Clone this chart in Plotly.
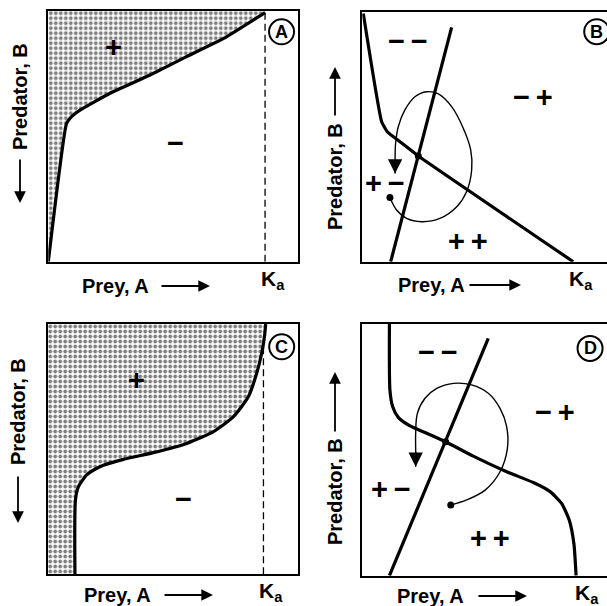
import plotly.graph_objects as go

W, H = 607, 606

# ---------------- data (normalized phase-plane coordinates) ----------------
# Panel A: predator isocline, prey carrying capacity Ka
a_iso_x = [0.0, 0.073, 0.093, 0.127, 0.247, 0.407, 0.553, 0.713, 0.867]
a_iso_y = [0.0, 0.551, 0.578, 0.604, 0.671, 0.744, 0.817, 0.896, 0.992]
a_ka = 0.867

# Panel B: prey isocline, predator isocline, trajectory
b_prey_x = [0.004, 0.079, 0.102, 0.154, 0.229, 0.862]
b_prey_y = [0.993, 0.560, 0.520, 0.480, 0.423, 0.0]
b_pred_x = [0.116, 0.365]
b_pred_y = [0.0, 0.937]
b_eq = (0.229, 0.423)
b_traj_x = [0.113, 0.140, 0.181, 0.243, 0.317, 0.386, 0.426, 0.447, 0.443, 0.413,
            0.365, 0.311, 0.263, 0.215, 0.174, 0.147, 0.136, 0.134, 0.134]
b_traj_y = [0.257, 0.207, 0.173, 0.160, 0.173, 0.220, 0.280, 0.367, 0.447, 0.533,
            0.620, 0.671, 0.680, 0.660, 0.607, 0.540, 0.473, 0.407, 0.353]
b_ka = 0.862

# Panel C: predator isocline (sigmoid), Ka
c_iso_x = [0.109, 0.111, 0.123, 0.156, 0.209, 0.303, 0.423, 0.556, 0.663, 0.743,
           0.803, 0.836, 0.856, 0.867, 0.872]
c_iso_y = [0.0, 0.297, 0.350, 0.397, 0.430, 0.459, 0.486, 0.523, 0.570, 0.630,
           0.710, 0.803, 0.883, 0.949, 1.0]
c_ka = 0.863

# Panel D
d_prey_x = [0.113, 0.115, 0.126, 0.149, 0.197, 0.265, 0.342, 0.455, 0.591, 0.700,
            0.768, 0.815, 0.846, 0.865, 0.874]
d_prey_y = [1.0, 0.738, 0.672, 0.629, 0.595, 0.566, 0.532, 0.475, 0.413, 0.370,
            0.334, 0.287, 0.221, 0.128, 0.0]
d_pred_x = [0.113, 0.516]
d_pred_y = [0.0, 0.943]
d_eq = (0.342, 0.532)
d_traj_x = [0.363, 0.428, 0.503, 0.564, 0.594, 0.591, 0.564, 0.516, 0.448, 0.374,
            0.306, 0.258, 0.227, 0.220, 0.220, 0.220]
d_traj_y = [0.281, 0.301, 0.340, 0.413, 0.506, 0.592, 0.665, 0.725, 0.758, 0.764,
            0.744, 0.705, 0.645, 0.566, 0.499, 0.433]
d_ka = 0.887

# region sign labels per panel: (text, x, y)
a_labels = [("+", 0.26, 0.857), ("−", 0.507, 0.471)]
b_labels = [("−\u2009−", 0.188, 0.884), ("−\u2009+", 0.699, 0.660), ("+\u2009−", 0.093, 0.316), ("+\u2009+", 0.433, 0.084)]
c_labels = [("+", 0.356, 0.776), ("−", 0.543, 0.301)]
d_labels = [("−\u2009−", 0.313, 0.887), ("−\u2009+", 0.788, 0.649), ("+\u2009−", 0.118, 0.343), ("+\u2009+", 0.523, 0.148)]
panel_letters = [("A", 0.933, 0.916), ("B", 0.958, 0.920), ("C", 0.936, 0.909), ("D", 0.931, 0.903)]

x_title = "Prey, A"
y_title = "Predator, B"
ka_text = "K<sub>a</sub>"

# ---------------- layout helpers ----------------
def px(x):
    return x / W

def py(y):
    return 1 - y / H

boxes = {  # left, right, top, bottom in pixels
    1: (48.3, 298.3, 10.7, 261.7),
    2: (362.3, 607.0, 11.7, 261.7),
    3: (47.7, 297.7, 324.0, 574.3),
    4: (361.7, 607.0, 324.0, 575.7),
}

fig = go.Figure()
FONT = "Liberation Sans, Arial, sans-serif"
THICK = 3.2
THIN = 1.4

def ax(i):
    return ("x" if i == 1 else f"x{i}"), ("y" if i == 1 else f"y{i}")

layout = dict(width=W, height=H, margin=dict(l=0, r=0, t=0, b=0),
              paper_bgcolor="white", plot_bgcolor="white", showlegend=False)
for i, (l, r, t, b) in boxes.items():
    full = i in (1, 3)
    xa = dict(domain=[px(l), min(px(r), 1.0)], range=[0, 1], showgrid=False, zeroline=False,
              showticklabels=False, ticks="", showline=True, linecolor="black", linewidth=1.6,
              mirror=True, anchor=ax(i)[1], fixedrange=True)
    ya = dict(domain=[py(b), py(t)], range=[0, 1], showgrid=False, zeroline=False,
              showticklabels=False, ticks="", showline=True, linecolor="black", linewidth=1.6,
              mirror=full, anchor=ax(i)[0], fixedrange=True)
    layout["xaxis" if i == 1 else f"xaxis{i}"] = xa
    layout["yaxis" if i == 1 else f"yaxis{i}"] = ya
fig.update_layout(**layout)

stipple = dict(shape=".", fgcolor="black", bgcolor="white", size=5, solidity=0.45)

# ---- Panel A ----
xr, yr = ax(1)
fig.add_trace(go.Scatter(x=a_iso_x + [a_iso_x[-1], 0, 0], y=a_iso_y + [1, 1, 0], mode="lines",
                         fill="toself", fillcolor="white", fillpattern=stipple,
                         line=dict(width=0), xaxis=xr, yaxis=yr, hoverinfo="skip"))
fig.add_trace(go.Scatter(x=[a_ka, a_ka], y=[0, 1], mode="lines",
                         line=dict(color="black", width=1.3, dash="7px,4px"), xaxis=xr, yaxis=yr))
fig.add_trace(go.Scatter(x=a_iso_x, y=a_iso_y, mode="lines", line=dict(color="black", width=THICK, shape="spline", smoothing=0.4),
                         xaxis=xr, yaxis=yr))

# ---- Panel B ----
xr, yr = ax(2)
fig.add_trace(go.Scatter(x=b_prey_x, y=b_prey_y, mode="lines", line=dict(color="black", width=THICK, shape="spline", smoothing=0.4),
                         xaxis=xr, yaxis=yr))
fig.add_trace(go.Scatter(x=b_pred_x, y=b_pred_y, mode="lines", line=dict(color="black", width=THICK),
                         xaxis=xr, yaxis=yr))
fig.add_trace(go.Scatter(x=b_traj_x, y=b_traj_y, mode="lines", line=dict(color="black", width=THIN, shape="spline"),
                         xaxis=xr, yaxis=yr))
fig.add_trace(go.Scatter(x=[b_eq[0], b_traj_x[0]], y=[b_eq[1], b_traj_y[0]], mode="markers",
                         marker=dict(color="black", size=7), xaxis=xr, yaxis=yr))

# ---- Panel C ----
xr, yr = ax(3)
fig.add_trace(go.Scatter(x=c_iso_x + [0, 0], y=c_iso_y + [1, 0], mode="lines",
                         fill="toself", fillcolor="white", fillpattern=stipple,
                         line=dict(width=0), xaxis=xr, yaxis=yr, hoverinfo="skip"))
fig.add_trace(go.Scatter(x=[c_ka, c_ka], y=[0, 0.93], mode="lines",
                         line=dict(color="black", width=1.3, dash="7px,4px"), xaxis=xr, yaxis=yr))
fig.add_trace(go.Scatter(x=c_iso_x, y=c_iso_y, mode="lines", line=dict(color="black", width=THICK, shape="spline", smoothing=0.6),
                         xaxis=xr, yaxis=yr))

# ---- Panel D ----
xr, yr = ax(4)
fig.add_trace(go.Scatter(x=d_prey_x, y=d_prey_y, mode="lines", line=dict(color="black", width=THICK, shape="spline", smoothing=0.6),
                         xaxis=xr, yaxis=yr))
fig.add_trace(go.Scatter(x=d_pred_x, y=d_pred_y, mode="lines", line=dict(color="black", width=THICK),
                         xaxis=xr, yaxis=yr))
fig.add_trace(go.Scatter(x=d_traj_x, y=d_traj_y, mode="lines", line=dict(color="black", width=THIN, shape="spline"),
                         xaxis=xr, yaxis=yr))
fig.add_trace(go.Scatter(x=[d_eq[0], d_traj_x[0]], y=[d_eq[1], d_traj_y[0]], mode="markers",
                         marker=dict(color="black", size=7), xaxis=xr, yaxis=yr))

ann = []
# trajectory arrowheads
for i, tx, ty in ((2, b_traj_x, b_traj_y), (4, d_traj_x, d_traj_y)):
    xr, yr = ax(i)
    ann.append(dict(x=tx[-1], y=ty[-1], ax=tx[-2], ay=ty[-2], xref=xr, yref=yr, axref=xr, ayref=yr,
                    text="", showarrow=True, arrowhead=2, arrowsize=2.2, arrowwidth=1.3, arrowcolor="black"))

# sign labels
for i, labs in ((1, a_labels), (2, b_labels), (3, c_labels), (4, d_labels)):
    xr, yr = ax(i)
    for t, x, y in labs:
        ann.append(dict(x=x, y=y, xref=xr, yref=yr, text=f"<b>{t}</b>", showarrow=False,
                        xanchor="center", yanchor="middle",
                        font=dict(family=FONT, size=29, color="black")))

# circled panel letters
for i, (t, x, y) in enumerate(panel_letters, start=1):
    xr, yr = ax(i)
    fig.add_trace(go.Scatter(x=[x], y=[y], mode="markers", marker=dict(symbol="circle-open", size=25,
                             color="black", line=dict(width=2, color="black")), xaxis=xr, yaxis=yr, cliponaxis=False))
    ann.append(dict(x=x, y=y, xref=xr, yref=yr, text=f"<b>{t}</b>", showarrow=False,
                    xanchor="center", yanchor="middle",
                    font=dict(family=FONT, size=18, color="black")))

# Ka labels
for i, k in ((1, a_ka), (2, b_ka), (3, c_ka), (4, d_ka)):
    xr, yr = ax(i)
    l, r, t, b = boxes[i]
    ann.append(dict(x=k, y=py(b + 18), xref=xr, yref="paper", text=f"<b>{ka_text}</b>", showarrow=False,
                    xanchor="left", yanchor="middle", xshift=-6, font=dict(family=FONT, size=21, color="black")))

# axis titles with arrows (pixel positions)
xt = {1: (115, 286, 160, 210), 2: (431, 285, 468, 521), 3: (117, 595, 163, 213), 4: (430, 596, 477, 527)}
for i, (cx, cy, a0, a1) in xt.items():
    ann.append(dict(x=px(cx), y=py(cy), xref="paper", yref="paper", text=f"<b>{x_title}</b>", showarrow=False,
                    xanchor="center", yanchor="middle",
                    font=dict(family=FONT, size=20, color="black")))
    ann.append(dict(x=px(a1), y=py(cy), ax=a0 - a1, ay=0, xref="paper", yref="paper",
                    text="", showarrow=True, arrowhead=2, arrowsize=1.3, arrowwidth=1.8, arrowcolor="black"))

yt = {1: (20, 97, 158, 203), 2: (335, 177, 117, 67), 3: (18, 412, 475, 523), 4: (335, 492, 433, 372)}
for i, (cx, cy, a0, a1) in yt.items():
    ann.append(dict(x=px(cx), y=py(cy), xref="paper", yref="paper", text=f"<b>{y_title}</b>", showarrow=False,
                    xanchor="center", yanchor="middle",
                    textangle=-90, font=dict(family=FONT, size=20, color="black")))
    ann.append(dict(x=px(cx), y=py(a1), ax=0, ay=a0 - a1, xref="paper", yref="paper",
                    text="", showarrow=True, arrowhead=2, arrowsize=1.3, arrowwidth=1.8, arrowcolor="black"))

fig.update_layout(annotations=ann)
fig.write_html("out.html", config={"displayModeBar": False},
               post_script="document.body.style.margin='0';document.body.style.overflow='hidden';")
